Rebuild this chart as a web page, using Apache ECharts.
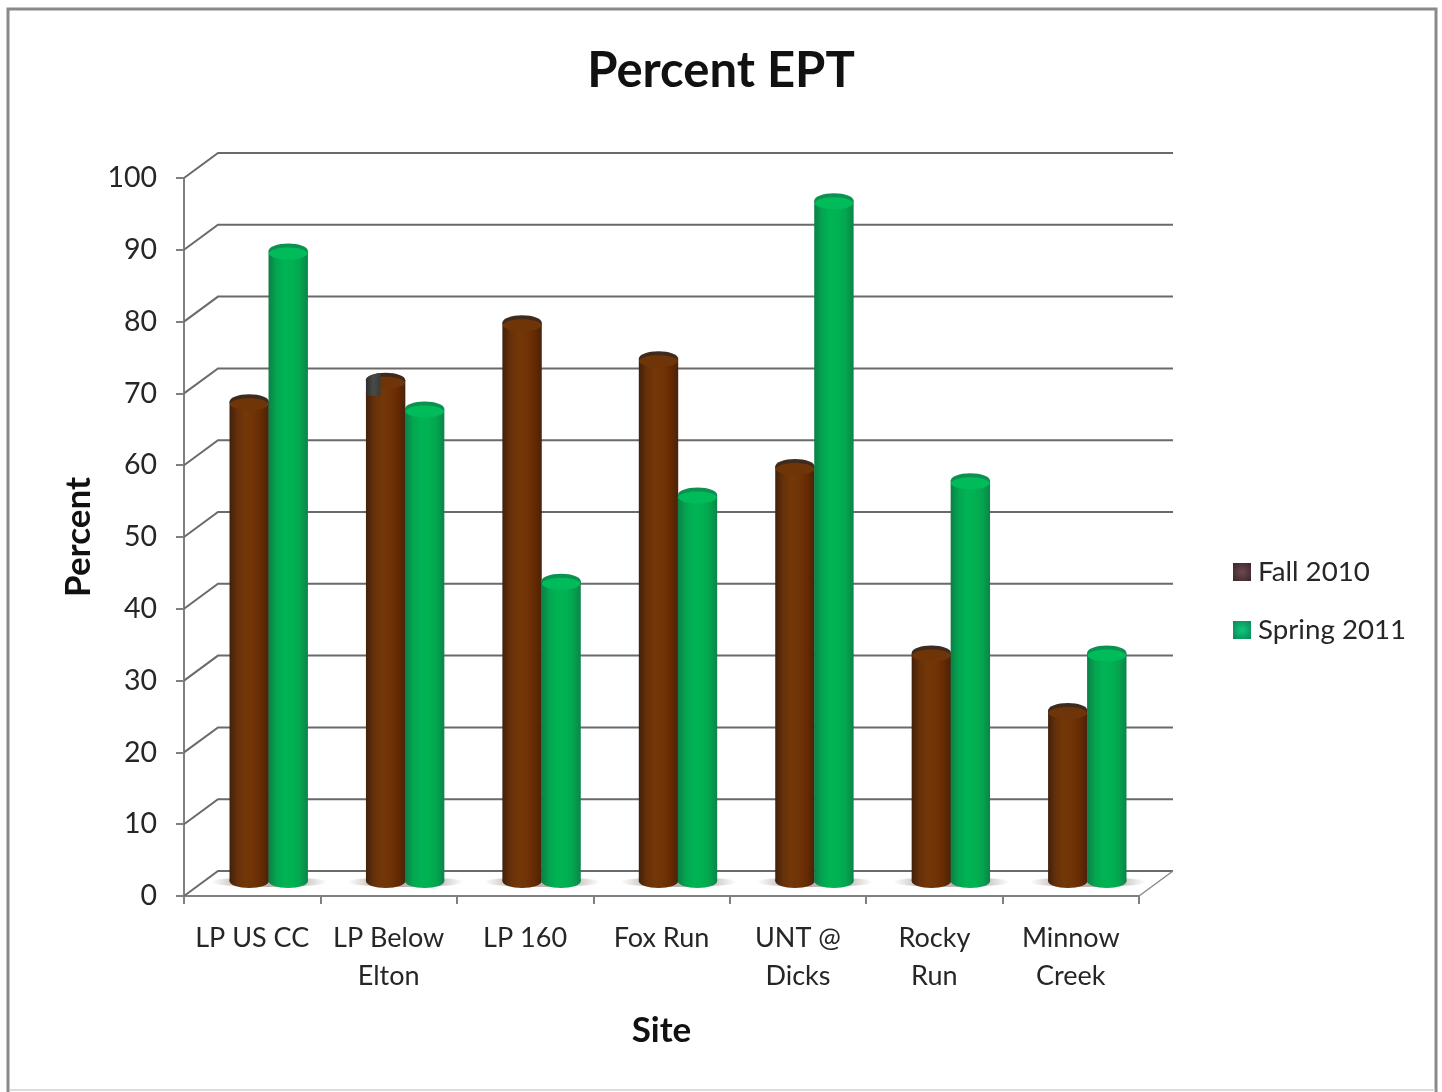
<!DOCTYPE html>
<html>
<head>
<meta charset="utf-8">
<title>Percent EPT</title>
<script src="https://cdn.jsdelivr.net/npm/echarts@6/dist/echarts.min.js"></script>
<style>
  html, body { margin: 0; padding: 0; background: #fff; }
  #chart { width: 1442px; height: 1092px; }
</style>
</head>
<body>
<div id="chart"></div>
<script>
const categories = ['LP US CC', 'LP Below\nElton', 'LP 160', 'Fox Run', 'UNT @\nDicks', 'Rocky\nRun', 'Minnow\nCreek'];
const fall2010 = [68, 71, 79, 74, 59, 33, 25];
const spring2011 = [89, 67, 43, 55, 96, 57, 33];
const valueTicks = [0, 10, 20, 30, 40, 50, 60, 70, 80, 90, 100];
// Value up to which the left half of a Fall cylinder is drawn in its dark shade.
const darkPatchFall = [null, 68, null, null, null, null, null];

const FONT = 'Lato, "Open Sans", sans-serif';
const TEXT = '#262626';
const WALL_DX = 34;   // depth of the 3D box, horizontally
const WALL_DY = -25;  // depth of the 3D box, vertically
const GRID_LINE = '#6a6a6a';

function sideGradient(stops) {
  return {
    type: 'linear', x: 0, y: 0, x2: 1, y2: 0,
    colorStops: stops.map((c, i) => ({ offset: i / (stops.length - 1), color: c }))
  };
}

function legendSwatch(edge, centre) {
  return {
    type: 'radial', x: 0.5, y: 0.5, r: 0.6,
    colorStops: [{ offset: 0, color: centre }, { offset: 1, color: edge }]
  };
}

const brownBody = sideGradient(['#42200a', '#66310a', '#733708', '#713406', '#662b03', '#4a2208']);
const greenBody = sideGradient(['#0b7f48', '#04a550', '#00b354', '#00b251', '#04a54f', '#0b8449']);

// One cylinder: body, rounded foot and elliptical cap, placed from the value scale.
function cylinder(side, body, capRim, capFill, darkPatch) {
  const halfWidth = 19.7;
  const capRy = 7.5;
  return function (params, api) {
    const i = api.value(0);
    const v = api.value(1);
    const cx = api.coord([i, v])[0] + side;
    const topY = api.coord([i, v])[1] - 6;
    const baseY = api.coord([i, 0])[1] - 15;
    const children = [
      { type: 'ellipse', shape: { cx, cy: baseY, rx: halfWidth, ry: 7 }, style: { fill: body } },
      { type: 'rect', shape: { x: cx - halfWidth, y: topY, width: halfWidth * 2, height: baseY - topY }, style: { fill: body } },
      { type: 'ellipse', shape: { cx, cy: topY, rx: halfWidth, ry: capRy }, style: { fill: capRim } },
      { type: 'ellipse', shape: { cx, cy: topY + 2.5, rx: halfWidth - 0.5, ry: capRy - 1.5 }, style: { fill: capFill } }
    ];
    if (darkPatch && darkPatch[i] != null) {
      const patchBottom = api.coord([i, darkPatch[i]])[1] - 12;
      const rightEdge = cx - 5;
      const points = [[cx - halfWidth, patchBottom], [rightEdge, patchBottom]];
      for (let a = Math.acos((rightEdge - cx) / halfWidth); a <= Math.PI + 0.001; a += 0.12) {
        points.push([cx + halfWidth * Math.cos(a), topY - capRy * Math.sin(a)]);
      }
      children.push({
        type: 'polygon', shape: { points },
        style: { fill: sideGradient(['#2e2e2e', '#4a4a48', '#3a3a38']) }
      });
    }
    return { type: 'group', children };
  };
}

// Back-wall gridlines with the short diagonal running back from the value axis.
function renderWall(params, api) {
  const v = api.value(1);
  const p = api.coord([0, v]);
  const size = api.size([1, 0]);
  const x0 = p[0] - size[0] / 2;
  const y = p[1];
  const width = size[0] * categories.length;
  const lineStyle = { stroke: GRID_LINE, lineWidth: 2, fill: 'none' };
  const children = [
    { type: 'polyline', shape: { points: [[x0, y], [x0 + WALL_DX, y + WALL_DY], [x0 + width + WALL_DX, y + WALL_DY]] }, style: lineStyle }
  ];
  if (v === 0) {
    children.push({ type: 'line', shape: { x1: x0 + width, y1: y, x2: x0 + width + WALL_DX, y2: y + WALL_DY }, style: { stroke: '#8a8a8a', lineWidth: 1.5 } });
  }
  return { type: 'group', children };
}

// Soft floor shadow spreading out on both sides of each pair of cylinders.
function renderShadow(params, api) {
  const i = api.value(0);
  const p = api.coord([i, 0]);
  return {
    type: 'ellipse',
    shape: { cx: p[0] + 17, cy: p[1] - 14, rx: 58, ry: 5 },
    style: {
      fill: sideGradient(['rgba(150,140,130,0)', 'rgba(130,120,115,0.45)', 'rgba(120,110,105,0.5)', 'rgba(120,110,105,0.5)', 'rgba(130,120,115,0.45)', 'rgba(150,140,130,0)'])
    }
  };
}

const chart = echarts.init(document.getElementById('chart'), null, { renderer: 'canvas' });
chart.setOption({
  animation: false,
  backgroundColor: '#ffffff',
  graphic: [
    {
      type: 'rect', z: -10, silent: true,
      shape: { x: 8, y: 9, width: 1428, height: 1090 },
      style: { fill: '#ffffff', stroke: '#8a8a8a', lineWidth: 3 }
    },
    {
      type: 'line', z: -9, silent: true,
      shape: { x1: 10, y1: 1090, x2: 1435, y2: 1090 },
      style: { stroke: '#dcdcdc', lineWidth: 2 }
    }
  ],
  title: {
    text: 'Percent EPT', left: 716, top: 42, textAlign: 'center',
    textStyle: { fontFamily: FONT, fontSize: 49, fontWeight: 'bold', color: '#111' }
  },
  legend: {
    orient: 'vertical', left: 1228, top: 553, itemWidth: 18, itemHeight: 18, itemGap: 30,
    selectedMode: false,
    textStyle: { fontFamily: FONT, fontSize: 27.7, color: TEXT, padding: [0, 0, 0, 2] },
    data: [
      { name: 'Fall 2010', icon: 'rect', itemStyle: { color: legendSwatch('#43292f', '#6a4a50') } },
      { name: 'Spring 2011', icon: 'rect', itemStyle: { color: legendSwatch('#0a8f5c', '#10c878') } }
    ]
  },
  grid: { left: 184, right: 303, top: 178, bottom: 196 },
  xAxis: {
    type: 'category', data: categories, boundaryGap: true,
    name: 'Site', nameLocation: 'middle', nameGap: 117,
    nameTextStyle: { fontFamily: FONT, fontSize: 35, fontWeight: 'bold', color: '#111' },
    axisLine: { show: true, lineStyle: { color: '#808080', width: 2 } },
    axisTick: { show: true, alignWithLabel: false, length: 8, lineStyle: { color: '#808080', width: 2 } },
    axisLabel: { fontFamily: FONT, fontSize: 27, color: TEXT, margin: 23, lineHeight: 38, interval: 0 }
  },
  yAxis: {
    type: 'value', min: 0, max: 100, interval: 10,
    name: 'Percent', nameLocation: 'middle', nameGap: 86, nameRotate: 90,
    nameTextStyle: { fontFamily: FONT, fontSize: 35, fontWeight: 'bold', color: '#111' },
    axisLine: { show: true, lineStyle: { color: '#808080', width: 2 } },
    axisTick: { show: true, length: 8, lineStyle: { color: '#808080', width: 2 } },
    axisLabel: { fontFamily: FONT, fontSize: 28.5, color: TEXT, margin: 27 },
    splitLine: { show: false }
  },
  series: [
    {
      name: 'wall', type: 'custom', z: 1, silent: true, clip: false,
      renderItem: renderWall, encode: { x: 0, y: 1 },
      data: valueTicks.map(v => [0, v])
    },
    {
      name: 'shadow', type: 'custom', z: 2, silent: true, clip: false,
      renderItem: renderShadow, encode: { x: 0, y: 1 },
      data: categories.map((c, i) => [i, 0])
    },
    {
      name: 'Fall 2010', type: 'custom', z: 3, clip: false,
      renderItem: cylinder(-3, brownBody, '#3f2b1e', '#6f3508', darkPatchFall),
      encode: { x: 0, y: 1 },
      data: fall2010.map((v, i) => [i, v])
    },
    {
      name: 'Spring 2011', type: 'custom', z: 4, clip: false,
      renderItem: cylinder(36, greenBody, '#0c9150', '#00bb5a'),
      encode: { x: 0, y: 1 },
      data: spring2011.map((v, i) => [i, v])
    }
  ]
});
</script>
</body>
</html>
